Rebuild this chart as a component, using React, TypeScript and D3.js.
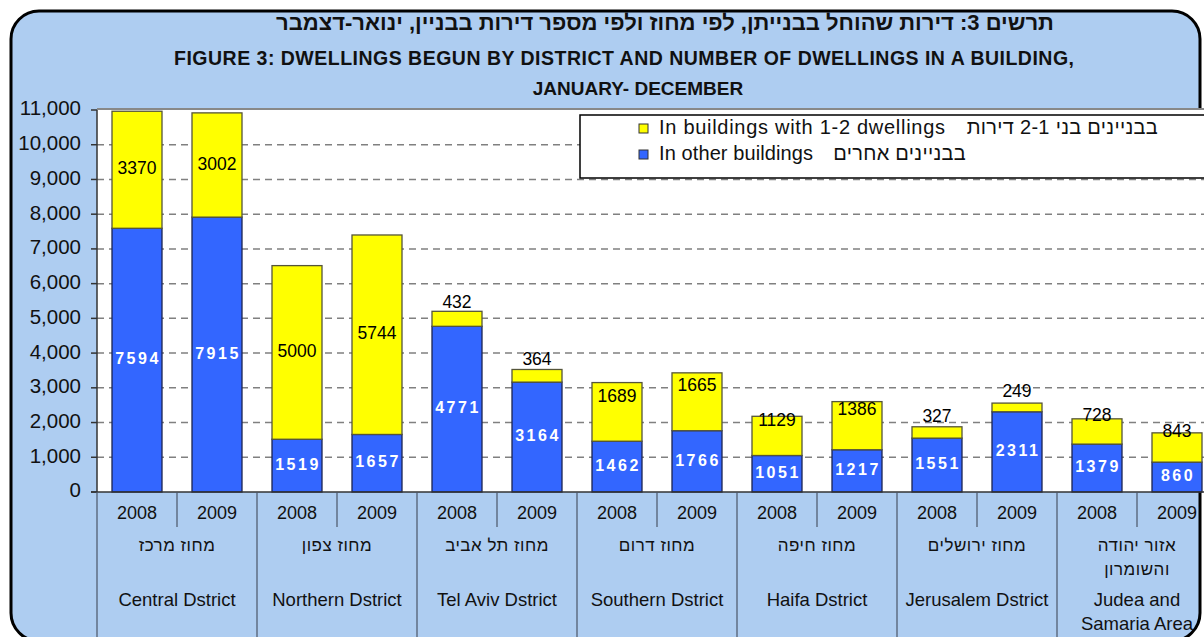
import React from "react";
import * as d3 from "d3";

const years = ["2008", "2009"];
const districtsHe: string[][] = [
  ["מחוז מרכז"],
  ["מחוז צפון"],
  ["מחוז תל אביב"],
  ["מחוז דרום"],
  ["מחוז חיפה"],
  ["מחוז ירושלים"],
  ["אזור יהודה", "והשומרון"],
];
const districtsEn: string[][] = [
  ["Central Dstrict"],
  ["Northern Dstrict"],
  ["Tel Aviv Dstrict"],
  ["Southern Dstrict"],
  ["Haifa Dstrict"],
  ["Jerusalem Dstrict"],
  ["Judea and", "Samaria Area"],
];
const otherBuildings = [7594, 7915, 1519, 1657, 4771, 3164, 1462, 1766, 1051, 1217, 1551, 2311, 1379, 860];
const smallBuildings = [3370, 3002, 5000, 5744, 432, 364, 1689, 1665, 1129, 1386, 327, 249, 728, 843];
const yTicks = d3.range(0, 11001, 1000);
const titleHe = "תרשים 3: דירות שהוחל בבנייתן, לפי מחוז ולפי מספר דירות בבניין, ינואר-דצמבר";
const titleEn1 = "FIGURE 3: DWELLINGS BEGUN BY DISTRICT AND NUMBER OF DWELLINGS IN A BUILDING,";
const titleEn2 = "JANUARY- DECEMBER";
const legendEn = ["In buildings with 1-2 dwellings", "In other buildings"];
const legendHe = ["בבניינים בני 2-1 דירות", "בבניינים אחרים"];

const W = 1204;
const H = 637;
const FONT = "'Liberation Sans', Arial, sans-serif";
const BG = "#aecdf1";
const BLUE = "#3366ff";
const YELLOW = "#ffff00";

export default function App() {
  const left = 97;
  const right = 1217;
  const top = 110;
  const bottom = 492;

  const barKeys = districtsEn.flatMap((_, di) => years.map((yr) => `${di}-${yr}`));
  const x = d3.scaleBand<string>().domain(barKeys).range([left, right]).paddingInner(0.375).paddingOuter(0.1875);
  const xg = d3.scaleBand<number>().domain(d3.range(districtsEn.length)).range([left, right]).padding(0);
  const y = d3.scaleLinear().domain([0, 11000]).range([bottom, top]);

  const rows = barKeys.map((k, i) => ({ key: k, other: otherBuildings[i], small: smallBuildings[i] }));
  const stack = d3.stack<any>().keys(["other", "small"]);
  const series = stack(rows);
  const colors = [BLUE, YELLOW];
  const strokes = ["#1c2450", "#55553a"];
  const fmt = d3.format(",");

  const legEnW = [286, 154];
  const legHeEnd = [1158, 966];

  return (
    <div style={{ position: "absolute", left: 0, top: 0 }}>
      <svg width={W} height={H} style={{ display: "block", fontFamily: FONT }}>
        <rect x={0} y={0} width={W} height={H} fill="#fff" />
        <rect x={11} y={11} width={1189} height={630} rx={28} ry={28} fill={BG} stroke="#000" strokeWidth={3} />

        {/* titles */}
        <text x={665} y={24} textAnchor="middle" dominantBaseline="middle" direction="rtl" fontWeight="bold" fontSize={22} fill="#111">
          {titleHe}
        </text>
        <text x={624} y={60} textAnchor="middle" dominantBaseline="middle" fontWeight="bold" fontSize={19.5} fill="#111" textLength={900} lengthAdjust="spacing">
          {titleEn1}
        </text>
        <text x={638} y={90} textAnchor="middle" dominantBaseline="middle" fontWeight="bold" fontSize={19} fill="#111">
          {titleEn2}
        </text>

        {/* plot area */}
        <rect x={left} y={top} width={right - left} height={bottom - top} fill="#fff" />
        {yTicks.filter((t) => t > 0 && t < 11000).map((t) => (
          <line key={t} x1={left} x2={right} y1={y(t)} y2={y(t)} stroke="#808080" strokeWidth={1.5} strokeDasharray="7,5" />
        ))}
        <line x1={left} x2={right} y1={top - 1} y2={top - 1} stroke="#888" strokeWidth={2} />

        {/* bars */}
        {series.map((s, si) =>
          s.map((d, i) => (
            <rect
              key={`${si}-${i}`}
              x={x(barKeys[i])}
              y={y(d[1])}
              width={x.bandwidth()}
              height={y(d[0]) - y(d[1])}
              fill={colors[si]}
              stroke={strokes[si]}
              strokeWidth={1.3}
            />
          ))
        )}

        {/* blue labels */}
        {series[0].map((d, i) => (
          <text
            key={`bl-${i}`}
            x={(x(barKeys[i]) as number) + x.bandwidth() / 2 + 1}
            y={(y(d[0]) + y(d[1])) / 2}
            textAnchor="middle"
            dominantBaseline="middle"
            fill="#fff"
            fontWeight="bold"
            fontSize={16}
            letterSpacing={2.5}
          >
            {otherBuildings[i]}
          </text>
        ))}
        {/* yellow labels */}
        {series[1].map((d, i) => {
          const y0 = y(d[0]);
          const y1 = y(d[1]);
          const h = y0 - y1;
          const cy = h < 80 ? (y0 + y1) / 2 - 15 : (y0 + y1) / 2;
          return (
            <text
              key={`yl-${i}`}
              x={(x(barKeys[i]) as number) + x.bandwidth() / 2}
              y={cy}
              textAnchor="middle"
              dominantBaseline="middle"
              fill="#000"
              fontSize={17.5}
            >
              {smallBuildings[i]}
            </text>
          );
        })}

        {/* y axis */}
        <line x1={left} x2={left} y1={top} y2={bottom} stroke="#333" strokeWidth={1.5} />
        {yTicks.map((t) => (
          <g key={`yt-${t}`}>
            <line x1={left - 6} x2={left} y1={y(t)} y2={y(t)} stroke="#333" strokeWidth={1.5} />
            <text x={left - 16} y={y(t)} textAnchor="end" dominantBaseline="middle" fontSize={20.5} fill="#111">
              {fmt(t)}
            </text>
          </g>
        ))}

        {/* x axis */}
        <line x1={left - 6} x2={right} y1={bottom} y2={bottom} stroke="#333" strokeWidth={1.5} />
        {xg.domain().map((di) => {
          const gx = xg(di) as number;
          const bw = xg.bandwidth();
          return (
            <g key={`g-${di}`}>
              <line x1={gx} x2={gx} y1={bottom} y2={H} stroke="#4a5568" strokeWidth={1.2} />
              <line x1={gx + bw / 2} x2={gx + bw / 2} y1={bottom} y2={527} stroke="#4a5568" strokeWidth={1.2} />
              {years.map((yr, yi) => (
                <text key={yr} x={gx + bw / 4 + (yi * bw) / 2} y={514} textAnchor="middle" dominantBaseline="middle" fontSize={18} fill="#111">
                  {yr}
                </text>
              ))}
              {districtsHe[di].map((ln, li) => (
                <text key={`he-${li}`} x={gx + bw / 2} y={547 + li * 24} textAnchor="middle" dominantBaseline="middle" fontSize={17} fill="#111" direction="rtl" letterSpacing={0.5}>
                  {ln}
                </text>
              ))}
              {districtsEn[di].map((ln, li) => (
                <text key={`en-${li}`} x={gx + bw / 2} y={601 + li * 24} textAnchor="middle" dominantBaseline="middle" fontSize={18.5} fill="#111">
                  {ln}
                </text>
              ))}
            </g>
          );
        })}

        {/* legend */}
        <rect x={580} y={115} width={700} height={63} fill="#fff" stroke="#000" strokeWidth={1.5} />
        {legendEn.map((lab, i) => (
          <g key={`lg-${i}`}>
            <rect x={639} y={124 + i * 26} width={9} height={9} fill={i === 0 ? YELLOW : BLUE} stroke="#333" strokeWidth={1} />
            <text x={659} y={129 + i * 26} dominantBaseline="middle" fontSize={20} fill="#111" textLength={legEnW[i]} lengthAdjust="spacing">
              {lab}
            </text>
            <text
              x={legHeEnd[i]}
              y={129 + i * 26}
              dominantBaseline="middle"
              direction="rtl"
              textAnchor="start"
              fontSize={20}
              fill="#111"
              letterSpacing={0.3}
            >
              {legendHe[i]}
            </text>
          </g>
        ))}
      </svg>
    </div>
  );
}
